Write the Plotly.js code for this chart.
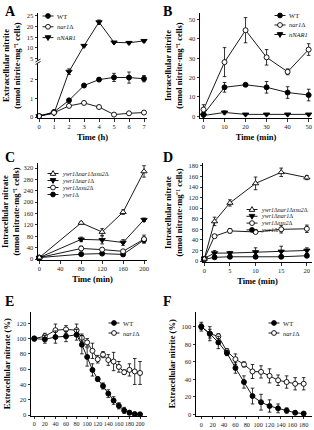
<!DOCTYPE html>
<html>
<head>
<meta charset="utf-8">
<script src="https://cdn.plot.ly/plotly-3.0.1.min.js"></script>
<style>
  html, body { margin: 0; padding: 0; background: #ffffff; }
  #chart { width: 314px; height: 430px; }
</style>
</head>
<body>
<div id="chart"></div>
<script>
// ---------- Panel A: extracellular nitrite (nmol/mg cells) vs time (h) ----------
const aTime = [0, 1, 2, 3, 4, 5, 6, 7];
const aWT = [0.05, 0.27, 0.9, 1.7, 2.02, 2.14, 2.13, 2.07];
const aWTErr = [0.03, 0.05, 0.05, 0.06, 0.08, 0.22, 0.3, 0.17];
const aNar1 = [0.05, 0.23, 0.6, 0.76, 0.54, 0.13, 0.2, 0.24];
const aNar1Err = [0.02, 0.03, 0.04, 0.04, 0.04, 0.03, 0.03, 0.04];
const aNNAR1 = [0.05, 0.2, 2.45, 11, 22.1, 12.6, 12.4, 13.3];
const aNNAR1Err = [0.02, 0.03, 0.15, 0.5, 1.0, 0.4, 0.5, 0.6];
const aYTicks = [0, 1, 2, 5, 10, 15, 20, 25];
const aXTicks = [0, 1, 2, 3, 4, 5, 6, 7];

// ---------- Panel B: intracellular nitrite vs time (min) ----------
const bTime = [0, 10, 20, 30, 40, 50];
const bWT = [1, 15, 16.3, 15, 12.3, 11];
const bWTErr = [0.5, 2.5, 0.6, 3, 3, 3];
const bNar1 = [3.5, 28, 44.5, 30.5, 23, 34.5];
const bNar1Err = [2.5, 7.5, 6.5, 4, 1.5, 3];
const bNNAR1 = [0.4, 2, 1, 1, 1, 1];
const bNNAR1Err = [0.3, 0.8, 0.3, 0.3, 0.3, 0.3];
const bXTicks = [0, 10, 20, 30, 40, 50];
const bYTicks = [0, 10, 20, 30, 40, 50];

// ---------- Panel C: intracellular nitrate vs time (min) ----------
const cTime = [0, 80, 120, 160, 200];
const cTriple = [5, 127, 95, 165, 308];
const cTripleErr = [2, 4, 12, 8, 20];
const cDouble = [5, 69, 67, 58, 138];
const cDoubleErr = [2, 8, 14, 10, 6];
const cSsu2 = [5, 37, 33, 27, 70];
const cSsu2Err = [2, 8, 4, 4, 14];
const cYwr1 = [5, 17, 19, 16, 67];
const cYwr1Err = [1, 3, 3, 3, 10];
const cXTicks = [0, 40, 80, 120, 160, 200];
const cYTicks = [0, 40, 80, 120, 160, 200, 240, 280, 320];

// ---------- Panel D: intracellular nitrate vs time (min) ----------
const dTime = [0, 2, 5, 10, 15, 20];
const dTriple = [4, 75, 110, 147, 168, 158];
const dTripleErr = [2, 8, 6, 12, 8, 4];
const dDouble = [5, 15, 15, 17, 18, 20];
const dDoubleErr = [2, 5, 3, 8, 10, 5];
const dSsu2 = [4, 47, 57, 55, 60, 61];
const dSsu2Err = [2, 3, 4, 3, 7, 7];
const dYwr1 = [3, 7, 8, 8, 8, 10];
const dYwr1Err = [1, 2, 2, 2, 2, 3];
const dXTicks = [0, 5, 10, 15, 20];
const dYTicks = [0, 20, 40, 60, 80, 100, 120, 140, 160, 180];

// ---------- Panel E: extracellular nitrate (%) vs time (min) ----------
const eTime = [0, 20, 40, 60, 80, 90, 100, 110, 120, 130, 140, 150, 160, 170, 180, 190, 200];
const eWT = [100, 99, 102, 103, 105, 92, 76, 59, 47, 38, 28, 19, 12, 6, 3, 1.3, 0.9];
const eWTErr = [3, 5, 8, 7, 7, 12, 12, 8, 3, 4, 5, 5, 4, 4, 3, 2, 1];
const eNar1 = [100, 103, 111, 112, 111, 101, 95, 84, 73, 79, 72, 70, 63, 56, 59, 57, 55];
const eNar1Err = [2, 4, 8, 5, 8, 5, 5, 10, 5, 4, 7, 12, 7, 3, 8, 17, 15];
const eXTicks = [0, 20, 40, 60, 80, 100, 120, 140, 160, 180, 200];
const eYTicks = [0, 20, 40, 60, 80, 100, 120];

// ---------- Panel F: extracellular nitrite (%) vs time (min) ----------
const fTime = [0, 15, 30, 45, 60, 75, 90, 105, 120, 135, 150, 165, 180];
const fWT = [100, 92, 82, 70, 53, 37, 21, 14, 9.7, 7, 4.5, 2, 1.1];
const fWTErr = [5, 8, 7, 3, 6, 7, 9, 9, 7, 5, 3, 2, 1];
const fNar1 = [100, 92, 89, 72, 63, 57, 49, 48.5, 44, 39, 37, 35, 35];
const fNar1Err = [3, 5, 3, 3, 6, 3, 8, 7, 8, 6, 7, 7, 7];
const fXTicks = [0, 20, 40, 60, 80, 100, 120, 140, 160, 180];
const fYTicks = [0, 20, 40, 60, 80, 100];

// ---------- drawing ----------
const W = 314, H = 430;
const SERIF = '"Liberation Serif", "Times New Roman", serif';
const px = p => p / W;          // pixel column -> paper x
const py = p => 1 - p / H;      // pixel row -> paper y

// Panel A uses a broken y axis: 0..~3 linear, then a compressed 5..25 segment.
const LOW_TOP = 2.9, UP_BASE = 5, UP_POS = 3.16, UP_SLOPE = 0.115;
function brokenY(v) {
  if (v <= LOW_TOP) return v;
  if (v >= UP_BASE) return UP_POS + (v - UP_BASE) * UP_SLOPE;
  return LOW_TOP + (v - LOW_TOP) * (UP_POS - LOW_TOP) / (UP_BASE - LOW_TOP);
}

const MARK = {
  wt:     { symbol: 'circle',        color: '#000', size: 5 },
  nar1:   { symbol: 'circle',        color: '#fff', size: 5 },
  down:   { symbol: 'triangle-down', color: '#000', size: 5.5 },
  upOpen: { symbol: 'triangle-up',   color: '#fff', size: 5.5 }
};

const traces = [];
function addSeries(ax, x, y, err, mark, transform) {
  const t = transform || (v => v);
  const yy = y.map(t);
  const up = y.map((v, i) => t(v + err[i]) - t(v));
  const dn = y.map((v, i) => t(v) - t(Math.max(v - err[i], 0)));
  traces.push({
    type: 'scatter', mode: 'lines+markers',
    x: x, y: yy,
    xaxis: 'x' + ax, yaxis: 'y' + ax,
    showlegend: false, hoverinfo: 'skip', cliponaxis: false,
    line: { color: '#000', width: 0.9 },
    marker: { symbol: mark.symbol, size: mark.size, color: mark.color,
              line: { color: '#000', width: 0.9 } },
    error_y: { type: 'data', symmetric: false, array: up, arrayminus: dn,
               visible: true, color: '#000', thickness: 0.8, width: 1.8 }
  });
}

// Panel A
addSeries('', aTime, aNNAR1, aNNAR1Err, MARK.down, brokenY);
addSeries('', aTime, aWT, aWTErr, MARK.wt, brokenY);
addSeries('', aTime, aNar1, aNar1Err, MARK.nar1, brokenY);
// Panel B
addSeries('2', bTime, bNNAR1, bNNAR1Err, MARK.down);
addSeries('2', bTime, bWT, bWTErr, MARK.wt);
addSeries('2', bTime, bNar1, bNar1Err, MARK.nar1);
// Panel C
addSeries('3', cTime, cYwr1, cYwr1Err, MARK.wt);
addSeries('3', cTime, cSsu2, cSsu2Err, MARK.nar1);
addSeries('3', cTime, cDouble, cDoubleErr, MARK.down);
addSeries('3', cTime, cTriple, cTripleErr, MARK.upOpen);
// Panel D
addSeries('4', dTime, dYwr1, dYwr1Err, MARK.wt);
addSeries('4', dTime, dDouble, dDoubleErr, MARK.down);
addSeries('4', dTime, dSsu2, dSsu2Err, MARK.nar1);
addSeries('4', dTime, dTriple, dTripleErr, MARK.upOpen);
// Panel E
addSeries('5', eTime, eNar1, eNar1Err, MARK.nar1);
addSeries('5', eTime, eWT, eWTErr, MARK.wt);
// Panel F
addSeries('6', fTime, fNar1, fNar1Err, MARK.nar1);
addSeries('6', fTime, fWT, fWTErr, MARK.wt);

const tickFont = { family: SERIF, size: 6.5, color: '#222' };
const titleFont = { family: SERIF, size: 8.5, color: '#000', weight: 'bold' };

function axisBase(extra) {
  return Object.assign({
    showline: true, linecolor: '#000', linewidth: 1,
    ticks: 'outside', ticklen: 2.5, tickwidth: 0.8, tickcolor: '#000',
    showgrid: false, zeroline: false, fixedrange: true, tickangle: 0,
    tickfont: tickFont, automargin: false
  }, extra);
}

const layout = {
  width: W, height: H,
  margin: { l: 0, r: 0, t: 0, b: 0 },
  paper_bgcolor: '#fff', plot_bgcolor: 'rgba(0,0,0,0)',
  showlegend: false,
  font: { family: SERIF },
  annotations: [], shapes: []
};

const panels = [
  { ax: '', box: { x: [38, 147], y: [13, 118] }, xr: [-0.067, 7.2], yr: [-0.054, 5.62],
    xticks: aXTicks, yticks: aYTicks, ymap: brokenY,
    xtitle: 'Time (h)', ytitle: 'Extracellular nitrite<br>(nmol nitrite·mg⁻¹ cells)' },
  { ax: '2', box: { x: [200, 312], y: [13, 118] }, xr: [-1.66, 51.6], yr: [-0.87, 53.4],
    xticks: bXTicks, yticks: bYTicks,
    xtitle: 'Time (min)', ytitle: 'Intracellular nitrite<br>(nmol nitrite·mg⁻¹ cells)' },
  { ax: '3', box: { x: [38, 147], y: [163, 260] }, xr: [-2.5, 205.7], yr: [-3.5, 337.6],
    xticks: cXTicks, yticks: cYTicks,
    xtitle: 'Time (min)', ytitle: 'Intracellular nitrate<br>(nmol nitrate·mg⁻¹ cells)' },
  { ax: '4', box: { x: [203, 312], y: [163, 262] }, xr: [-0.25, 21.0], yr: [-1.9, 185.6],
    xticks: dXTicks, yticks: dYTicks,
    xtitle: 'Time (min)', ytitle: 'Intracellular nitrate<br>(nmol nitrate·mg⁻¹ cells)' },
  { ax: '5', box: { x: [31, 147], y: [312, 415.5] }, xr: [-6.2, 213.2], yr: [-0.65, 134.8],
    xticks: eXTicks, yticks: eYTicks, xtickSize: 6.1,
    ytitle: 'Extracellular nitrate (%)' },
  { ax: '6', box: { x: [196, 312], y: [312, 415.5] }, xr: [-9.3, 194.6], yr: [-1.14, 116.7],
    xticks: fXTicks, yticks: fYTicks, xtickSize: 6.3,
    ytitle: 'Extracellular nitrite (%)' }
];

panels.forEach(p => {
  const n = p.ax;
  const ymap = p.ymap || (v => v);
  const xa = axisBase({
    domain: [px(p.box.x[0]), px(p.box.x[1])], anchor: 'y' + n, range: p.xr,
    tickmode: 'array', tickvals: p.xticks, ticktext: p.xticks.map(String)
  });
  if (p.xtickSize) xa.tickfont = Object.assign({}, tickFont, { size: p.xtickSize });
  if (p.xtitle) xa.title = { text: p.xtitle, font: titleFont, standoff: 4 };
  layout['xaxis' + n] = xa;
  layout['yaxis' + n] = axisBase({
    domain: [py(p.box.y[1]), py(p.box.y[0])], anchor: 'x' + n, range: p.yr,
    tickmode: 'array', tickvals: p.yticks.map(ymap), ticktext: p.yticks.map(String),
    title: { text: p.ytitle, font: titleFont, standoff: 4 }
  });
});

// Panel letters
[['A', 3, 2], ['B', 161, 2], ['C', 3, 148], ['D', 161, 148], ['E', 3, 292], ['F', 161, 292]]
  .forEach(([t, x, y]) => layout.annotations.push({
    text: '<b>' + t + '</b>', xref: 'paper', yref: 'paper', x: px(x), y: py(y),
    xanchor: 'left', yanchor: 'top', showarrow: false,
    font: { family: SERIF, size: 14, color: '#000' }
  }));

// Break marks on the panel A y axis
layout.shapes.push({ type: 'rect', xref: 'paper', yref: 'paper', layer: 'above',
  x0: px(35.5), x1: px(40.5), y0: py(63.5), y1: py(60.5),
  fillcolor: '#fff', line: { width: 0 } });
[[64.5, 61.5], [62.0, 59.0]].forEach(([yb, yt]) => layout.shapes.push({
  type: 'line', xref: 'paper', yref: 'paper', layer: 'above',
  x0: px(35.5), x1: px(40.5), y0: py(yb), y1: py(yt),
  line: { color: '#000', width: 0.9 } }));

// Keyed labels for each panel
const legends = [
  { x: 48, y: 16, dy: 10.8, size: 6.5, items: [['WT', MARK.wt], ['<i>nar1</i>Δ', MARK.nar1], ['<i>nNAR1</i>', MARK.down]] },
  { x: 280, y: 15.5, dy: 9.5, size: 6.5, items: [['WT', MARK.wt], ['<i>nar1</i>Δ', MARK.nar1], ['<i>nNAR1</i>', MARK.down]] },
  { x: 53, y: 173.5, dy: 7, size: 6, items: [['<i>ywr1</i>Δ<i>nar1</i>Δ<i>ssu2</i>Δ', MARK.upOpen], ['<i>ywr1</i>Δ<i>nar1</i>Δ', MARK.down],
                                    ['<i>ywr1</i>Δ<i>ssu2</i>Δ', MARK.nar1], ['<i>ywr1</i>Δ', MARK.wt]] },
  { x: 252, y: 209.5, dy: 6.8, size: 6, items: [['<i>ywr1</i>Δ<i>nar1</i>Δ<i>ssu2</i>Δ', MARK.upOpen], ['<i>ywr1</i>Δ<i>nar1</i>Δ', MARK.down],
                                   ['<i>ywr1</i>Δ<i>ssu2</i>Δ', MARK.nar1], ['<i>ywr1</i>Δ', MARK.wt]] },
  { x: 114, y: 323, dy: 10, size: 6.5, items: [['WT', MARK.wt], ['<i>nar1</i>Δ', MARK.nar1]] },
  { x: 274, y: 323, dy: 10, size: 6.5, items: [['WT', MARK.wt], ['<i>nar1</i>Δ', MARK.nar1]] }
];

function keyShape(mark, cx, cy) {
  const base = { xref: 'paper', yref: 'paper', xsizemode: 'pixel', ysizemode: 'pixel',
                 xanchor: px(cx), yanchor: py(cy), layer: 'above',
                 fillcolor: mark.color, line: { color: '#000', width: 0.9 } };
  if (mark.symbol === 'circle') return Object.assign(base, { type: 'circle', x0: -2.4, x1: 2.4, y0: -2.4, y1: 2.4 });
  if (mark.symbol === 'triangle-down') return Object.assign(base, { type: 'path', path: 'M-2.8,1.9 L2.8,1.9 L0,-2.9 Z' });
  return Object.assign(base, { type: 'path', path: 'M-2.8,-1.9 L2.8,-1.9 L0,2.9 Z' });
}

legends.forEach(lg => {
  lg.items.forEach(([label, mark], i) => {
    const cy = lg.y + i * lg.dy;
    layout.shapes.push({ type: 'line', xref: 'paper', yref: 'paper', layer: 'above',
      x0: px(lg.x - 5.5), x1: px(lg.x + 5.5), y0: py(cy), y1: py(cy),
      line: { color: '#000', width: 0.9 } });
    layout.shapes.push(keyShape(mark, lg.x, cy));
    layout.annotations.push({ text: label, xref: 'paper', yref: 'paper',
      x: px(lg.x + 8), y: py(cy), xanchor: 'left', yanchor: 'middle', showarrow: false,
      borderpad: 0,
      font: { family: SERIF, size: lg.size, color: '#111' } });
  });
});

Plotly.newPlot('chart', traces, layout, { staticPlot: true, displayModeBar: false });
</script>
</body>
</html>
